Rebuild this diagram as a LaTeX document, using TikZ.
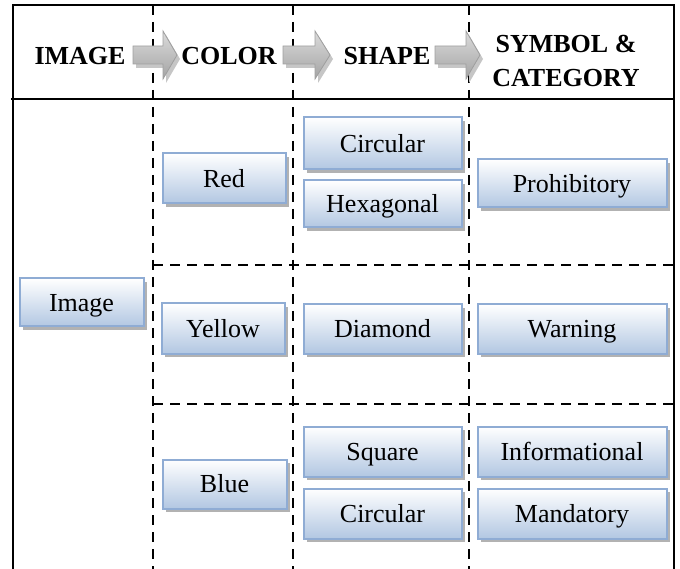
\documentclass[tikz,border=0pt]{standalone}
\usepackage{fontspec}
\setmainfont{Liberation Serif}
\usetikzlibrary{shadows,calc}
\definecolor{boxborder}{HTML}{8FACD4}
\definecolor{boxbottom}{HTML}{B2C7E2}
\newcommand\hdrarrow[4]{%
  \fill[gray!45] ($(#1,46)+(3,4)$) -- ($(#2,46)+(3,4)$) -- ($(#2,31)+(3,4)$) -- ($(#3,55)+(3,4)$) -- ($(#2,79)+(3,4)$) -- ($(#2,64)+(3,4)$) -- ($(#1,64)+(3,4)$) -- cycle;
  \shade[top color=gray!28, bottom color=gray!72, draw=gray!75, line width=0.8pt] (#1,46) -- (#2,46) -- (#2,31) -- (#3,55) -- (#2,79) -- (#2,64) -- (#1,64) -- cycle;
  \coordinate (#4) at (#3,55);
}
\begin{document}
\begin{tikzpicture}[x=1pt,y=-1pt,
  box/.style={draw=boxborder, line width=2pt, top color=white, bottom color=boxbottom,
    drop shadow={shadow xshift=3.5pt, shadow yshift=-3.5pt, fill=gray!60, opacity=1},
    inner sep=0pt, font=\fontsize{26}{30}\selectfont, text height=20pt, text depth=2.8pt},
  hdr/.style={anchor=base, inner sep=0pt, font=\fontsize{26}{30}\selectfont\bfseries},
  frame/.style={line width=1.6pt, black},
  sep/.style={line width=2.5pt, dash pattern=on 10pt off 7pt, black},
]
\useasboundingbox (0,0) rectangle (680,569);
% frame
\draw[frame] (13,569) -- (13,5) -- (674,5) -- (674,569);
\draw[frame] (11,99) -- (674,99);
% separators
\draw[sep] (153,5) -- (153,569);
\draw[sep] (293,5) -- (293,569);
\draw[sep] (469,5) -- (469,569);
\draw[sep] (153,265) -- (674,265);
\draw[sep] (153,404) -- (674,404);
% header
\node[hdr] (hImage) at (80,65) {IMAGE};
\node[hdr] (hColor) at (229,65) {COLOR};
\node[hdr] (hShape) at (387,65) {SHAPE};
\node[hdr] (hSym) at (566,53) {SYMBOL \&};
\node[hdr] (hCat) at (566,87) {CATEGORY};
\hdrarrow{133}{163}{177}{a1}
\hdrarrow{283}{315}{330}{a2}
\hdrarrow{435}{466}{480}{a3}
% boxes
\node[box, minimum width=124pt, minimum height=48pt] (image) at (81.5,302.5) {Image};
\node[box, minimum width=123pt, minimum height=50pt] (red) at (224,178.5) {Red};
\node[box, minimum width=123pt, minimum height=50pt] (yellow) at (223,328.5) {Yellow};
\node[box, minimum width=124pt, minimum height=49pt] (blue) at (224.5,484) {Blue};
\node[box, minimum width=158pt, minimum height=52pt] (circ1) at (382.5,143.5) {Circular};
\node[box, minimum width=158pt, minimum height=47pt] (hexa) at (382.5,204) {Hexagonal};
\node[box, minimum width=158pt, minimum height=49pt] (diamond) at (382.5,329) {Diamond};
\node[box, minimum width=158pt, minimum height=50pt] (square) at (382.5,451.5) {Square};
\node[box, minimum width=158pt, minimum height=50pt] (circ2) at (382.5,513.5) {Circular};
\node[box, minimum width=189pt, minimum height=48pt] (prohib) at (572,183.5) {Prohibitory};
\node[box, minimum width=189pt, minimum height=49pt] (warning) at (572,329) {Warning};
\node[box, minimum width=189pt, minimum height=50pt] (info) at (572,451.5) {Informational};
\node[box, minimum width=189pt, minimum height=50pt] (mand) at (572,513.5) {Mandatory};
\end{tikzpicture}
\end{document}
